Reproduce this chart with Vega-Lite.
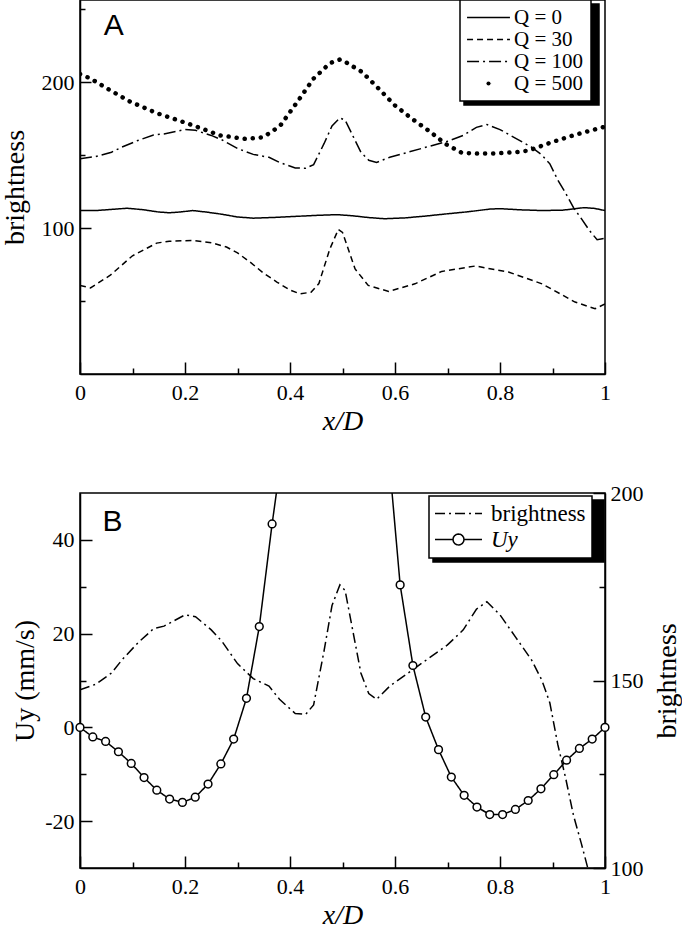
{
  "$schema": "https://vega.github.io/schema/vega-lite/v6.json",
  "background": "white",
  "padding": {"left": 0, "top": -3, "right": 0, "bottom": 0},
  "bounds": "flush",
  "spacing": 119,
  "resolve": {"scale": {"strokeDash": "independent", "fill": "independent"}, "legend": {"strokeDash": "independent", "fill": "independent"}},
  "datasets": {
    "A": [
      {"Q": "Q = 0", "x": 0, "v": 112}, {"Q": "Q = 0", "x": 0.03, "v": 112}, {"Q": "Q = 0", "x": 0.06, "v": 112.8}, {"Q": "Q = 0", "x": 0.09, "v": 113.6}, {"Q": "Q = 0", "x": 0.12, "v": 112.6}, {"Q": "Q = 0", "x": 0.15, "v": 111}, {"Q": "Q = 0", "x": 0.17, "v": 110.5}, {"Q": "Q = 0", "x": 0.19, "v": 111}, {"Q": "Q = 0", "x": 0.215, "v": 112}, {"Q": "Q = 0", "x": 0.24, "v": 111}, {"Q": "Q = 0", "x": 0.27, "v": 109.5}, {"Q": "Q = 0", "x": 0.3, "v": 107.6}, {"Q": "Q = 0", "x": 0.33, "v": 106.8}, {"Q": "Q = 0", "x": 0.37, "v": 107.3}, {"Q": "Q = 0", "x": 0.41, "v": 108}, {"Q": "Q = 0", "x": 0.45, "v": 108.7}, {"Q": "Q = 0", "x": 0.49, "v": 109.2}, {"Q": "Q = 0", "x": 0.52, "v": 108.4}, {"Q": "Q = 0", "x": 0.55, "v": 107.2}, {"Q": "Q = 0", "x": 0.58, "v": 106.4}, {"Q": "Q = 0", "x": 0.62, "v": 107}, {"Q": "Q = 0", "x": 0.66, "v": 108.3}, {"Q": "Q = 0", "x": 0.7, "v": 109.8}, {"Q": "Q = 0", "x": 0.74, "v": 111.2}, {"Q": "Q = 0", "x": 0.78, "v": 113}, {"Q": "Q = 0", "x": 0.8, "v": 113.3}, {"Q": "Q = 0", "x": 0.84, "v": 112.5}, {"Q": "Q = 0", "x": 0.88, "v": 112}, {"Q": "Q = 0", "x": 0.92, "v": 112.3}, {"Q": "Q = 0", "x": 0.96, "v": 114}, {"Q": "Q = 0", "x": 0.98, "v": 113.5}, {"Q": "Q = 0", "x": 1, "v": 112},
      {"Q": "Q = 30", "x": 0, "v": 60.7}, {"Q": "Q = 30", "x": 0.02, "v": 59}, {"Q": "Q = 30", "x": 0.057, "v": 67.5}, {"Q": "Q = 30", "x": 0.1, "v": 81}, {"Q": "Q = 30", "x": 0.146, "v": 89.7}, {"Q": "Q = 30", "x": 0.17, "v": 91}, {"Q": "Q = 30", "x": 0.216, "v": 91.5}, {"Q": "Q = 30", "x": 0.25, "v": 90}, {"Q": "Q = 30", "x": 0.279, "v": 87}, {"Q": "Q = 30", "x": 0.3, "v": 83}, {"Q": "Q = 30", "x": 0.324, "v": 76.7}, {"Q": "Q = 30", "x": 0.35, "v": 69}, {"Q": "Q = 30", "x": 0.375, "v": 63}, {"Q": "Q = 30", "x": 0.4, "v": 57.5}, {"Q": "Q = 30", "x": 0.419, "v": 55}, {"Q": "Q = 30", "x": 0.44, "v": 56}, {"Q": "Q = 30", "x": 0.455, "v": 62}, {"Q": "Q = 30", "x": 0.476, "v": 85.8}, {"Q": "Q = 30", "x": 0.492, "v": 99}, {"Q": "Q = 30", "x": 0.5, "v": 97}, {"Q": "Q = 30", "x": 0.524, "v": 72}, {"Q": "Q = 30", "x": 0.549, "v": 60.7}, {"Q": "Q = 30", "x": 0.588, "v": 56.6}, {"Q": "Q = 30", "x": 0.638, "v": 61.8}, {"Q": "Q = 30", "x": 0.689, "v": 70.3}, {"Q": "Q = 30", "x": 0.753, "v": 74}, {"Q": "Q = 30", "x": 0.816, "v": 69.9}, {"Q": "Q = 30", "x": 0.88, "v": 61.8}, {"Q": "Q = 30", "x": 0.943, "v": 49.3}, {"Q": "Q = 30", "x": 0.981, "v": 44.7}, {"Q": "Q = 30", "x": 1, "v": 48},
      {"Q": "Q = 100", "x": 0, "v": 147.5}, {"Q": "Q = 100", "x": 0.03, "v": 149}, {"Q": "Q = 100", "x": 0.06, "v": 152}, {"Q": "Q = 100", "x": 0.08, "v": 155.5}, {"Q": "Q = 100", "x": 0.11, "v": 160}, {"Q": "Q = 100", "x": 0.14, "v": 163.8}, {"Q": "Q = 100", "x": 0.16, "v": 164.5}, {"Q": "Q = 100", "x": 0.2, "v": 167.5}, {"Q": "Q = 100", "x": 0.22, "v": 167}, {"Q": "Q = 100", "x": 0.25, "v": 163.5}, {"Q": "Q = 100", "x": 0.27, "v": 160.5}, {"Q": "Q = 100", "x": 0.3, "v": 154.5}, {"Q": "Q = 100", "x": 0.33, "v": 150.5}, {"Q": "Q = 100", "x": 0.36, "v": 148.5}, {"Q": "Q = 100", "x": 0.38, "v": 145}, {"Q": "Q = 100", "x": 0.41, "v": 141.2}, {"Q": "Q = 100", "x": 0.43, "v": 141}, {"Q": "Q = 100", "x": 0.445, "v": 143.5}, {"Q": "Q = 100", "x": 0.465, "v": 158}, {"Q": "Q = 100", "x": 0.48, "v": 170}, {"Q": "Q = 100", "x": 0.495, "v": 175.5}, {"Q": "Q = 100", "x": 0.505, "v": 174}, {"Q": "Q = 100", "x": 0.52, "v": 163}, {"Q": "Q = 100", "x": 0.535, "v": 152}, {"Q": "Q = 100", "x": 0.55, "v": 146.5}, {"Q": "Q = 100", "x": 0.565, "v": 145}, {"Q": "Q = 100", "x": 0.59, "v": 148.5}, {"Q": "Q = 100", "x": 0.62, "v": 151.5}, {"Q": "Q = 100", "x": 0.66, "v": 155.5}, {"Q": "Q = 100", "x": 0.7, "v": 159.5}, {"Q": "Q = 100", "x": 0.73, "v": 163.5}, {"Q": "Q = 100", "x": 0.755, "v": 169}, {"Q": "Q = 100", "x": 0.775, "v": 171}, {"Q": "Q = 100", "x": 0.8, "v": 167.5}, {"Q": "Q = 100", "x": 0.83, "v": 161.5}, {"Q": "Q = 100", "x": 0.86, "v": 155.5}, {"Q": "Q = 100", "x": 0.88, "v": 150}, {"Q": "Q = 100", "x": 0.895, "v": 144}, {"Q": "Q = 100", "x": 0.91, "v": 133}, {"Q": "Q = 100", "x": 0.925, "v": 124}, {"Q": "Q = 100", "x": 0.94, "v": 114}, {"Q": "Q = 100", "x": 0.955, "v": 106.5}, {"Q": "Q = 100", "x": 0.97, "v": 98.5}, {"Q": "Q = 100", "x": 0.985, "v": 92}, {"Q": "Q = 100", "x": 1, "v": 93},
      {"Q": "Q = 500", "x": 0, "v": 205.5}, {"Q": "Q = 500", "x": 0.02, "v": 202.5}, {"Q": "Q = 500", "x": 0.05, "v": 196}, {"Q": "Q = 500", "x": 0.095, "v": 186.7}, {"Q": "Q = 500", "x": 0.146, "v": 178.8}, {"Q": "Q = 500", "x": 0.19, "v": 173.5}, {"Q": "Q = 500", "x": 0.222, "v": 169.5}, {"Q": "Q = 500", "x": 0.267, "v": 163.5}, {"Q": "Q = 500", "x": 0.317, "v": 161}, {"Q": "Q = 500", "x": 0.349, "v": 162.3}, {"Q": "Q = 500", "x": 0.381, "v": 170}, {"Q": "Q = 500", "x": 0.413, "v": 186}, {"Q": "Q = 500", "x": 0.445, "v": 202.5}, {"Q": "Q = 500", "x": 0.476, "v": 213}, {"Q": "Q = 500", "x": 0.495, "v": 215.5}, {"Q": "Q = 500", "x": 0.505, "v": 214}, {"Q": "Q = 500", "x": 0.537, "v": 207}, {"Q": "Q = 500", "x": 0.569, "v": 195.5}, {"Q": "Q = 500", "x": 0.6, "v": 184}, {"Q": "Q = 500", "x": 0.632, "v": 175}, {"Q": "Q = 500", "x": 0.664, "v": 166.8}, {"Q": "Q = 500", "x": 0.696, "v": 157.7}, {"Q": "Q = 500", "x": 0.727, "v": 151.6}, {"Q": "Q = 500", "x": 0.76, "v": 151}, {"Q": "Q = 500", "x": 0.791, "v": 151.2}, {"Q": "Q = 500", "x": 0.83, "v": 152}, {"Q": "Q = 500", "x": 0.855, "v": 153.2}, {"Q": "Q = 500", "x": 0.899, "v": 158.9}, {"Q": "Q = 500", "x": 0.943, "v": 163.9}, {"Q": "Q = 500", "x": 1, "v": 169.5}
    ],
    "U": [
      {"x": 0, "u": 0}, {"x": 0.0244, "u": -2.05}, {"x": 0.0488, "u": -3.0}, {"x": 0.0732, "u": -5.2}, {"x": 0.0976, "u": -7.7}, {"x": 0.122, "u": -10.7}, {"x": 0.1463, "u": -13.4}, {"x": 0.1707, "u": -15.3}, {"x": 0.1951, "u": -16}, {"x": 0.2195, "u": -14.9}, {"x": 0.2439, "u": -12.1}, {"x": 0.2683, "u": -7.8}, {"x": 0.2927, "u": -2.5}, {"x": 0.3171, "u": 6.2}, {"x": 0.3415, "u": 21.5}, {"x": 0.3659, "u": 43.4},
      {"x": 0.3902, "u": 63}, {"x": 0.4146, "u": 80}, {"x": 0.439, "u": 93}, {"x": 0.4634, "u": 101}, {"x": 0.4878, "u": 104}, {"x": 0.5122, "u": 101}, {"x": 0.5366, "u": 93}, {"x": 0.561, "u": 78}, {"x": 0.5854, "u": 61.5},
      {"x": 0.6098, "u": 30.4}, {"x": 0.6341, "u": 13.2}, {"x": 0.6585, "u": 2.2}, {"x": 0.6829, "u": -4.75}, {"x": 0.7073, "u": -10.6}, {"x": 0.7317, "u": -14.5}, {"x": 0.7561, "u": -17}, {"x": 0.7805, "u": -18.6}, {"x": 0.8049, "u": -18.6}, {"x": 0.8293, "u": -17.5}, {"x": 0.8537, "u": -15.6}, {"x": 0.878, "u": -13.1}, {"x": 0.9024, "u": -10.1}, {"x": 0.9268, "u": -7.0}, {"x": 0.9512, "u": -4.5}, {"x": 0.9756, "u": -2.5}, {"x": 1, "u": 0}
    ]
  },
  "config": {
    "font": "Liberation Serif, Times New Roman, serif",
    "view": {"stroke": "black", "strokeWidth": 1.5},
    "axis": {
      "grid": false, "domainColor": "black", "domainWidth": 1.5, "tickColor": "black", "tickWidth": 1.5,
      "labelColor": "black", "labelFont": "Liberation Serif, Times New Roman, serif", "labelFontSize": 22, "labelFlush": false, "labelOverlap": false,
      "titleFont": "Liberation Serif, Times New Roman, serif", "titleFontWeight": "normal", "titleColor": "black", "titleFontSize": 28
    },
    "legend": {"labelFont": "Liberation Serif, Times New Roman, serif", "labelColor": "black"}
  },
  "vconcat": [
    {
      "width": 525,
      "height": 374,
      "layer": [
        {
          "data": {"name": "A"},
          "transform": [{"filter": "datum.Q != 'Q = 500'"}],
          "mark": {"type": "line", "color": "black", "strokeWidth": 1.5, "clip": true},
          "encoding": {
            "x": {"field": "x", "type": "quantitative", "scale": {"domain": [0, 1], "nice": false, "zero": false},
              "axis": {"values": [0, 0.1, 0.2, 0.3, 0.4, 0.5, 0.6, 0.7, 0.8, 0.9, 1], "format": "~g",
                "labelExpr": "round(datum.value*10) % 2 == 0 ? datum.label : ''",
                "tickSize": {"condition": {"test": "round(datum.value*10) % 2 == 0", "value": -12}, "value": -6},
                "labelPadding": 20, "title": "x/D", "titleFontStyle": "italic", "titlePadding": -2}},
            "y": {"field": "v", "type": "quantitative", "scale": {"domain": [0, 256.3], "nice": false, "zero": false},
              "axis": {"values": [50, 100, 150, 200, 250],
                "labelExpr": "datum.value % 100 == 0 ? datum.label : ''",
                "tickSize": {"condition": {"test": "datum.value % 100 == 0", "value": -11}, "value": -5},
                "labelPadding": 17, "title": "brightness", "titlePadding": 12}},
            "strokeDash": {"field": "Q", "type": "nominal",
              "scale": {"domain": ["Q = 0", "Q = 30", "Q = 100", "Q = 500"], "range": [[1, 0], [6, 4], [12, 4, 2, 4], [0.1, 8]]},
              "legend": {
                "orient": "none", "legendX": 380, "legendY": 0, "title": null, "zindex": 2,
                "fillColor": "white", "strokeColor": "black", "padding": 7,
                "labelFontSize": 21, "labelOffset": 15, "labelExpr": "trim(datum.label) + '\u00a0\u00a0\u00a0'",
                "symbolType": "M-3.9,0L3.9,0", "symbolSize": 121, "symbolOffset": 11, "symbolStrokeWidth": 1.5, "symbolStrokeColor": "black", "rowPadding": 0,
                "encode": {
                  "legend": {"update": {"strokeWidth": {"value": 1.5}}},
                  "symbols": {"update": {
                    "shape": {"signal": "datum.value === 'Q = 500' ? 'M0.38,0L0.27,0.27L0,0.38L-0.27,0.27L-0.38,0L-0.27,-0.27L0,-0.38L0.27,-0.27Z' : 'M-3.9,0L3.9,0'"},
                    "fill": {"signal": "datum.value === 'Q = 500' ? 'black' : 'transparent'"},
                    "stroke": {"value": "black"}
                  }}
                }
              }}
          }
        },
        {
          "data": {"name": "A"},
          "transform": [{"filter": "datum.Q == 'Q = 500'"}],
          "mark": {"type": "line", "color": "black", "strokeWidth": 4.5, "strokeCap": "round", "clip": true},
          "encoding": {
            "x": {"field": "x", "type": "quantitative"},
            "y": {"field": "v", "type": "quantitative"},
            "strokeDash": {"field": "Q", "type": "nominal"}
          }
        },
        {
          "data": {"values": [{"label": "A"}]},
          "mark": {"type": "text", "font": "Liberation Sans", "fontSize": 30, "align": "left", "baseline": "alphabetic", "color": "black"},
          "encoding": {
            "x": {"datum": 0.045, "type": "quantitative"},
            "y": {"datum": 232, "type": "quantitative"},
            "text": {"field": "label"},
            "fill": {"datum": "Q = 0 ", "type": "nominal",
              "scale": {"domain": ["Q = 0 ", "Q = 30 ", "Q = 100 ", "Q = 500 "], "range": ["black", "black", "black", "black"]},
              "legend": {
                "orient": "none", "legendX": 384, "legendY": 4, "title": null, "zindex": 1,
                "fillColor": "black", "strokeColor": "black", "padding": 7,
                "labelFontSize": 21, "labelOffset": 89, "labelColor": "black", "labelExpr": "''",
                "symbolType": "M-3.9,0L3.9,0", "symbolSize": 121, "symbolOffset": 11, "symbolStrokeWidth": 1.5, "symbolStrokeColor": "black", "symbolFillColor": "black", "rowPadding": 0,
                "encode": {"legend": {"update": {"strokeWidth": {"value": 1.5}}}}
              }}
          }
        }
      ]
    },
    {
      "width": 525,
      "height": 375,
      "resolve": {"scale": {"y": "independent"}},
      "layer": [
        {
          "data": {"name": "A"},
          "transform": [{"filter": "datum.Q == 'Q = 100'"}],
          "mark": {"type": "line", "color": "black", "strokeWidth": 1.5, "clip": true},
          "encoding": {
            "x": {"field": "x", "type": "quantitative", "scale": {"domain": [0, 1], "nice": false, "zero": false},
              "axis": {"values": [0, 0.1, 0.2, 0.3, 0.4, 0.5, 0.6, 0.7, 0.8, 0.9, 1], "format": "~g",
                "labelExpr": "round(datum.value*10) % 2 == 0 ? datum.label : ''",
                "tickSize": {"condition": {"test": "round(datum.value*10) % 2 == 0", "value": -12}, "value": -6},
                "labelPadding": 20, "title": "x/D", "titleFontStyle": "italic", "titlePadding": -2}},
            "y": {"field": "v", "type": "quantitative", "scale": {"domain": [100, 200], "nice": false, "zero": false},
              "axis": {"orient": "right", "values": [100, 125, 150, 175, 200],
                "labelExpr": "datum.value % 50 == 0 ? datum.label : ''",
                "tickSize": {"condition": {"test": "datum.value % 50 == 0", "value": -12}, "value": -6},
                "labelPadding": 17, "title": "brightness", "titleAngle": 270, "titleBaseline": "top", "titlePadding": 10}},
            "strokeDash": {"datum": "brightness", "type": "nominal",
              "scale": {"domain": ["brightness", "Uy"], "range": [[10, 4, 2, 4], [1, 0]]},
              "legend": {
                "orient": "none", "legendX": 349, "legendY": 3, "title": null, "zindex": 2,
                "fillColor": "white", "strokeColor": "black", "padding": 6,
                "labelFontSize": 23, "labelOffset": 21, "labelExpr": "trim(datum.label) + '\u00a0\u00a0\u00a0'",
                "symbolType": "M-4.27,0L4.27,0", "symbolSize": 121, "symbolOffset": 12, "symbolStrokeWidth": 1.5, "symbolStrokeColor": "black", "rowPadding": 2,
                "encode": {
                  "legend": {"update": {"strokeWidth": {"value": 1.5}}},
                  "labels": {"update": {"fontStyle": {"signal": "datum.value === 'Uy' ? 'italic' : 'normal'"}}},
                  "symbols": {"update": {
                    "shape": {"signal": "datum.value === 'Uy' ? 'M-4.27,0L-1,0L-0.924,0.383L-0.707,0.707L-0.383,0.924L0,1L0.383,0.924L0.707,0.707L0.924,0.383L1,0L0.924,-0.383L0.707,-0.707L0.383,-0.924L0,-1L-0.383,-0.924L-0.707,-0.707L-0.924,-0.383L-1,0M1,0L4.27,0' : 'M-4.27,0L4.27,0'"},
                    "fill": {"signal": "datum.value === 'Uy' ? 'white' : 'transparent'"},
                    "stroke": {"value": "black"}
                  }}
                }
              }}
          }
        },
        {
          "layer": [
            {
              "data": {"name": "U"},
              "mark": {"type": "line", "color": "black", "strokeWidth": 1.5, "clip": true},
              "encoding": {
                "x": {"field": "x", "type": "quantitative"},
                "y": {"field": "u", "type": "quantitative", "scale": {"domain": [-30, 50], "nice": false, "zero": false},
                  "axis": {"orient": "left", "values": [-20, -10, 0, 10, 20, 30, 40],
                    "labelExpr": "datum.value % 20 == 0 ? toString(datum.value) : ''",
                    "tickSize": {"condition": {"test": "datum.value % 20 == 0", "value": -12}, "value": -6},
                    "labelPadding": 18, "title": "Uy (mm/s)", "titlePadding": 5}},
                "strokeDash": {"datum": "Uy", "type": "nominal"}
              }
            },
            {
              "data": {"name": "U"},
              "transform": [{"filter": "datum.u <= 50"}],
              "mark": {"type": "point", "shape": "circle", "filled": true, "fill": "white", "stroke": "black", "strokeWidth": 1.5, "size": 60, "opacity": 1},
              "encoding": {
                "x": {"field": "x", "type": "quantitative"},
                "y": {"field": "u", "type": "quantitative"}
              }
            },
            {
              "data": {"values": [{"label": "B"}]},
              "mark": {"type": "text", "font": "Liberation Sans", "fontSize": 30, "align": "left", "baseline": "alphabetic", "color": "black"},
              "encoding": {
                "x": {"datum": 0.043, "type": "quantitative"},
                "y": {"datum": 42, "type": "quantitative"},
                "text": {"field": "label"},
                "fill": {"datum": "brightness ", "type": "nominal",
                  "scale": {"domain": ["brightness ", "Uy "], "range": ["black", "black"]},
                  "legend": {
                    "orient": "none", "legendX": 353, "legendY": 7, "title": null, "zindex": 1,
                    "fillColor": "black", "strokeColor": "black", "padding": 6,
                    "labelFontSize": 23, "labelOffset": 124, "labelColor": "black", "labelExpr": "''",
                    "symbolType": "M-4.27,0L4.27,0", "symbolSize": 121, "symbolOffset": 12, "symbolStrokeWidth": 1.5, "symbolStrokeColor": "black", "symbolFillColor": "black", "rowPadding": 2,
                    "encode": {"legend": {"update": {"strokeWidth": {"value": 1.5}}}}
                  }}
              }
            }
          ]
        }
      ]
    }
  ]
}
